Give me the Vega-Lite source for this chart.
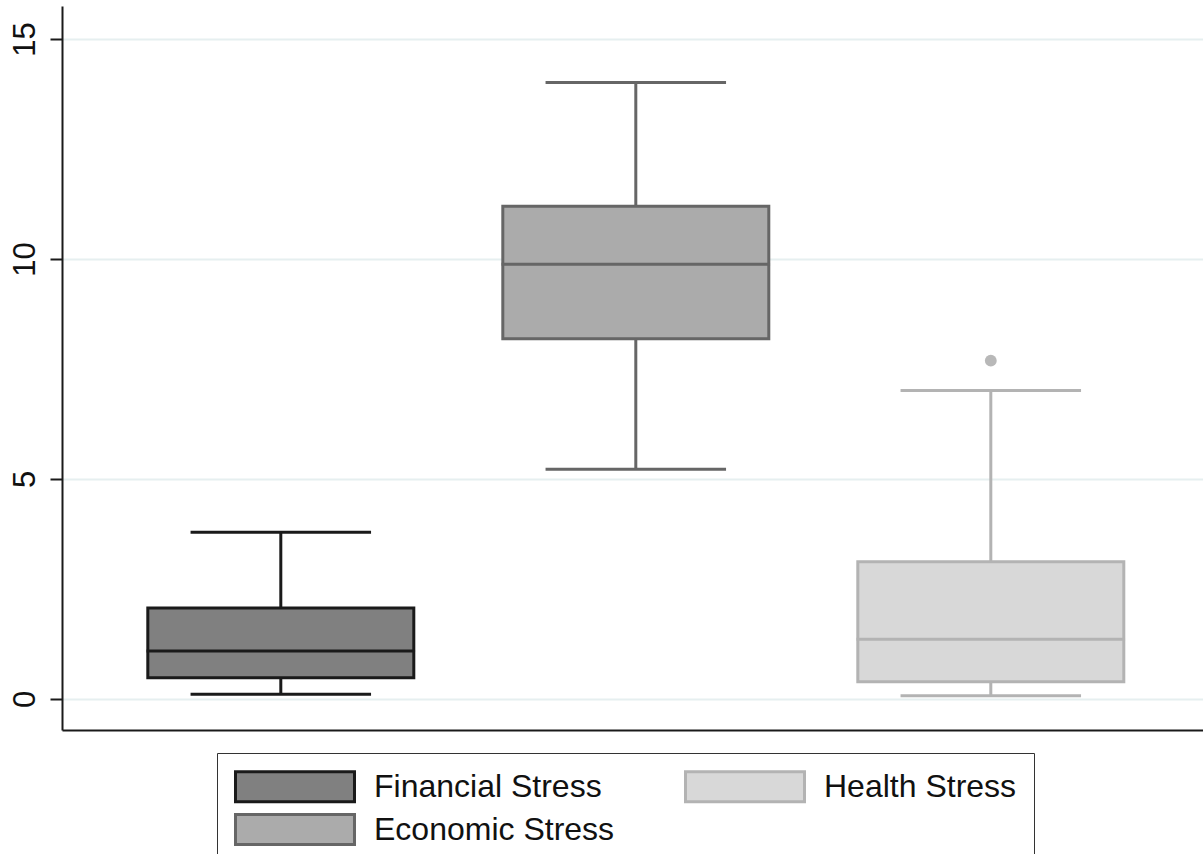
{
  "$schema": "https://vega.github.io/schema/vega-lite/v6.json",
  "width": 1141,
  "height": 724,
  "autosize": {"type": "none"},
  "padding": {"left": 62, "top": 6, "right": 0, "bottom": 124},
  "background": "white",
  "config": {
    "view": {"stroke": null},
    "font": "Liberation Sans",
    "legend": {
      "title": null,
      "orient": "none",
      "legendX": 155,
      "legendY": 747,
      "direction": "horizontal",
      "columns": 2,
      "columnPadding": 64,
      "rowPadding": 0,
      "padding": 17,
      "strokeColor": "#333333",
      "symbolType": "M-1,-1H6.933V1H-1Z",
      "symbolSize": 900,
      "symbolStrokeWidth": 3,
      "symbolOpacity": 1,
      "labelFontSize": 32,
      "labelColor": "#111111",
      "labelOffset": 107,
      "labelLimit": 400
    }
  },
  "datasets": {
    "stats": [
      {"group": "Financial Stress", "lower": 0.11, "q1": 0.48, "median": 1.09, "q3": 2.07, "upper": 3.79},
      {"group": "Economic Stress", "lower": 5.22, "q1": 8.19, "median": 9.88, "q3": 11.2, "upper": 14.01},
      {"group": "Health Stress", "lower": 0.075, "q1": 0.39, "median": 1.36, "q3": 3.12, "upper": 7.01}
    ],
    "outliers": [
      {"group": "Health Stress", "value": 7.69}
    ]
  },
  "data": {"name": "stats"},
  "encoding": {
    "x": {
      "field": "group",
      "type": "nominal",
      "scale": {
        "domain": ["Financial Stress", "Economic Stress", "Health Stress"],
        "paddingInner": 0.2507,
        "paddingOuter": 0.2324,
        "align": 0.52
      },
      "axis": {
        "title": null,
        "labels": false,
        "ticks": false,
        "grid": false,
        "domain": true,
        "domainColor": "#1a1a1a",
        "domainWidth": 2
      }
    }
  },
  "layer": [
    {
      "mark": {"type": "rule", "strokeWidth": 3, "opacity": 1},
      "encoding": {
        "y": {
          "field": "lower",
          "type": "quantitative",
          "scale": {"domain": [-0.705, 15.75], "nice": false, "zero": false},
          "axis": {
            "title": null,
            "values": [0, 5, 10, 15],
            "labelAngle": -90,
            "labelFontSize": 31,
            "labelColor": "#111111",
            "labelPadding": 9,
            "tickSize": 12,
            "tickColor": "#1a1a1a",
            "tickWidth": 2,
            "domainColor": "#1a1a1a",
            "domainWidth": 2,
            "grid": true,
            "gridColor": "#e6eff0",
            "gridWidth": 2
          }
        },
        "y2": {"field": "upper"},
        "stroke": {
          "field": "group",
          "type": "nominal",
          "scale": {
            "domain": ["Financial Stress", "Health Stress", "Economic Stress"],
            "range": ["#1a1a1a", "#b3b3b3", "#666666"]
          }
        }
      }
    },
    {
      "mark": {"type": "bar", "strokeWidth": 3, "opacity": 1},
      "encoding": {
        "y": {"field": "q1", "type": "quantitative"},
        "y2": {"field": "q3"},
        "fill": {
          "field": "group",
          "type": "nominal",
          "scale": {
            "domain": ["Financial Stress", "Health Stress", "Economic Stress"],
            "range": ["#808080", "#d8d8d8", "#ababab"]
          }
        },
        "stroke": {"field": "group", "type": "nominal"}
      }
    },
    {
      "mark": {"type": "tick", "filled": false, "size": 266, "thickness": 0.5, "strokeWidth": 2.5, "opacity": 1},
      "encoding": {
        "y": {"field": "median", "type": "quantitative"},
        "stroke": {"field": "group", "type": "nominal"}
      }
    },
    {
      "mark": {"type": "tick", "filled": false, "size": 178, "thickness": 0.5, "strokeWidth": 2.5, "opacity": 1},
      "encoding": {
        "y": {"field": "upper", "type": "quantitative"},
        "stroke": {"field": "group", "type": "nominal"}
      }
    },
    {
      "mark": {"type": "tick", "filled": false, "size": 178, "thickness": 0.5, "strokeWidth": 2.5, "opacity": 1},
      "encoding": {
        "y": {"field": "lower", "type": "quantitative"},
        "stroke": {"field": "group", "type": "nominal"}
      }
    },
    {
      "data": {"name": "outliers"},
      "mark": {"type": "point", "filled": true, "fill": "#b8b8b8", "size": 140, "opacity": 1},
      "encoding": {
        "y": {"field": "value", "type": "quantitative"}
      }
    }
  ]
}
